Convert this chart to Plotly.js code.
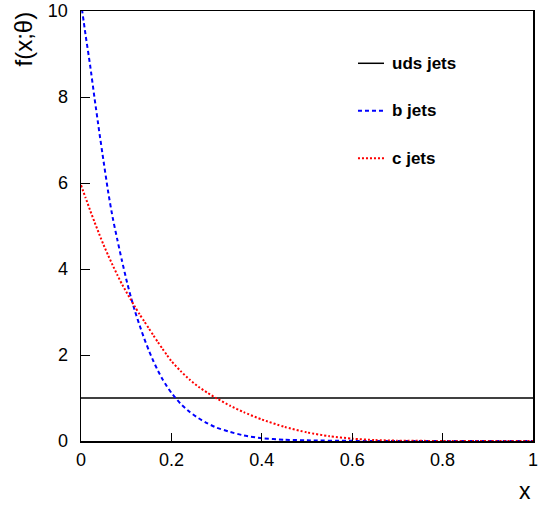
<!DOCTYPE html>
<html>
<head>
<meta charset="utf-8">
<script src="https://cdn.plot.ly/plotly-3.0.1.min.js"></script>
<style>html,body{margin:0;padding:0;background:#fff;}#chart{width:539px;height:506px;}</style>
</head>
<body>
<div id="chart"></div>
<script>
// ---- data ----
const seriesNames = ["uds jets", "b jets", "c jets"];

const xUds = [0, 1];
const yUds = [1, 1];

const xB = [0, 0.01, 0.02, 0.03, 0.04, 0.05, 0.06, 0.07, 0.08, 0.09, 0.10, 0.11, 0.12, 0.13, 0.14, 0.15,
            0.16, 0.17, 0.18, 0.19, 0.20, 0.22, 0.24, 0.26, 0.28, 0.30, 0.33, 0.36, 0.40, 0.45, 0.50,
            0.60, 0.70, 0.80, 0.90, 1.0];
const yB = [10.2, 9.45, 8.75, 7.97, 7.22, 6.50, 5.80, 5.20, 4.70, 4.22, 3.77, 3.36, 3.00, 2.68, 2.38, 2.11,
            1.86, 1.64, 1.44, 1.27, 1.12, 0.87, 0.68, 0.53, 0.41, 0.31, 0.21, 0.13, 0.065, 0.03, 0.015,
            0.003, 0.0, 0.0, 0.0, 0.0];

const xC = [0, 0.01, 0.02, 0.03, 0.04, 0.05, 0.06, 0.07, 0.08, 0.09, 0.10, 0.11, 0.12, 0.13, 0.14, 0.15,
            0.16, 0.17, 0.18, 0.19, 0.20, 0.22, 0.24, 0.26, 0.28, 0.30, 0.33, 0.36, 0.40, 0.45, 0.50,
            0.55, 0.60, 0.65, 0.70, 0.80, 0.90, 1.0];
const yC = [5.95, 5.66, 5.37, 5.09, 4.82, 4.56, 4.32, 4.09, 3.87, 3.66, 3.47, 3.29, 3.11, 2.94, 2.78, 2.62,
            2.46, 2.30, 2.15, 2.00, 1.86, 1.63, 1.43, 1.26, 1.12, 0.99, 0.82, 0.67, 0.50, 0.33, 0.20,
            0.11, 0.055, 0.022, 0.008, 0.001, 0.0, 0.0];

const xTicks = [0, 0.2, 0.4, 0.6, 0.8, 1];
const xTickText = ["0", "0.2", "0.4", "0.6", "0.8", "1"];
const yTicks = [0, 2, 4, 6, 8, 10];
const yTickText = ["0", "2", "4", "6", "8", "10"];

// ---- styling ----
const FONT = "Liberation Sans, Arial, Helvetica, sans-serif";
const colors = ["#000000", "#0000ff", "#ff0000"];
const dashes = ["solid", "4px,3px", "2px,2px"];
const widths = [1.5, 2, 2];

const traces = [
  {x: xUds, y: yUds, mode: "lines", name: seriesNames[0], line: {color: colors[0], width: widths[0], dash: dashes[0]}},
  {x: xB, y: yB, mode: "lines", name: seriesNames[1], line: {color: colors[1], width: widths[1], dash: dashes[1], shape: "spline", smoothing: 0.6}},
  {x: xC, y: yC, mode: "lines", name: seriesNames[2], line: {color: colors[2], width: widths[2], dash: dashes[2], shape: "spline", smoothing: 0.6}}
];

// legend (drawn as shapes + annotations, no box like the ROOT original)
const legX0 = 0.6128, legX1 = 0.6704, legTextX = 0.6836;
const legY = [0.8784, 0.7681, 0.6574];
const shapes = [];
const annotations = [];
for (let i = 0; i < seriesNames.length; i++) {
  shapes.push({type: "line", xref: "paper", yref: "paper", x0: legX0, x1: legX1, y0: legY[i], y1: legY[i],
               line: {color: colors[i], width: widths[i], dash: dashes[i]}});
  annotations.push({xref: "paper", yref: "paper", x: legTextX, y: legY[i], xanchor: "left", yanchor: "middle",
                    text: "<b>" + seriesNames[i] + "</b>", showarrow: false,
                    font: {family: FONT, size: 17, color: "#000"}});
}
// axis titles placed like ROOT (flush with the axis ends)
annotations.push({xref: "paper", yref: "paper", x: 1, y: 0, xanchor: "right", yanchor: "bottom", yshift: -64, xshift: -1,
                  text: "x", showarrow: false, borderpad: 0, font: {family: FONT, size: 23, color: "#000"}});
annotations.push({xref: "paper", yref: "paper", x: 0, y: 1, xanchor: "center", yanchor: "top", xshift: -58, yshift: 1,
                  text: "f(x;θ)", textangle: -90, showarrow: false, font: {family: FONT, size: 24, color: "#000"}});

const layout = {
  width: 539, height: 506,
  margin: {l: 81, r: 6, t: 11, b: 65, pad: 0},
  paper_bgcolor: "#fff", plot_bgcolor: "#fff",
  showlegend: false,
  font: {family: FONT, size: 18, color: "#000"},
  xaxis: {
    range: [0, 1], tickvals: xTicks, ticktext: xTickText,
    ticks: "inside", ticklen: 8, tickwidth: 1, tickcolor: "#000",
    showline: true, linecolor: "#000", linewidth: 1.5, mirror: true,
    showgrid: false, zeroline: false,
    tickfont: {family: FONT, size: 18, color: "#000"}, ticklabelstandoff: 2
  },
  yaxis: {
    range: [0, 10], tickvals: yTicks, ticktext: yTickText,
    ticks: "inside", ticklen: 9, tickwidth: 1, tickcolor: "#000",
    showline: true, linecolor: "#000", linewidth: 1.5, mirror: true,
    showgrid: false, zeroline: false,
    tickfont: {family: FONT, size: 18, color: "#000"}, ticklabelstandoff: 8
  },
  shapes: shapes,
  annotations: annotations
};

Plotly.newPlot("chart", traces, layout, {staticPlot: true, displayModeBar: false});
</script>
</body>
</html>
